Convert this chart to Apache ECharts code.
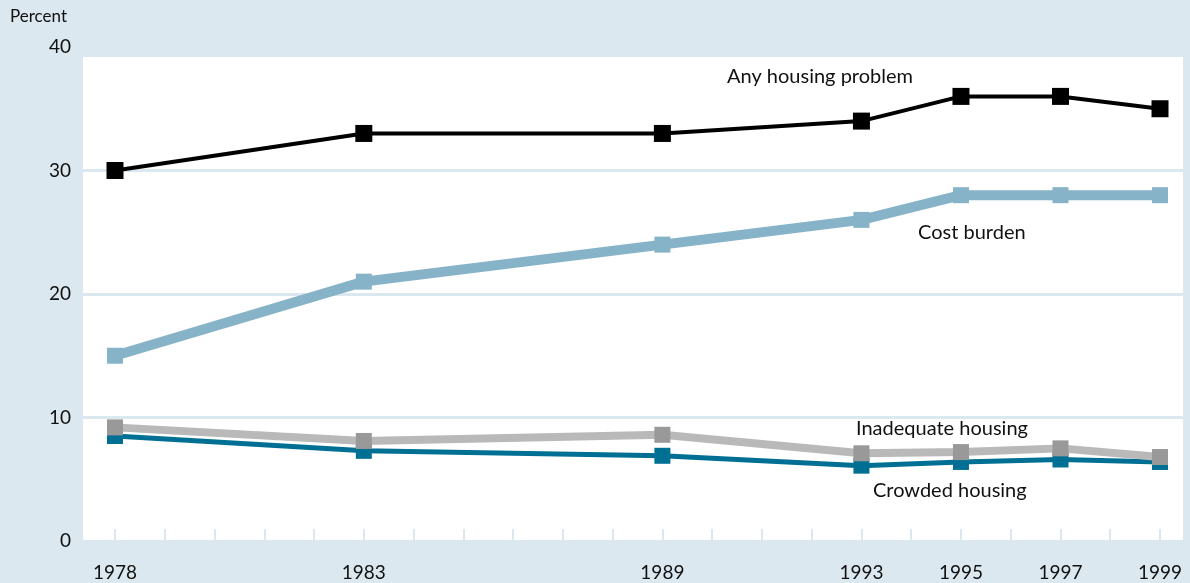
<!DOCTYPE html>
<html>
<head>
<meta charset="utf-8">
<script src="https://cdn.jsdelivr.net/npm/echarts@6/dist/echarts.min.js"></script>
<style>
  html, body { margin: 0; padding: 0; background: #dce8ef; }
  #chart { width: 1190px; height: 583px; }
</style>
</head>
<body>
<div id="chart"></div>
<script>
// 年份与各系列数据 (百分比)
var years = [1978, 1983, 1989, 1993, 1995, 1997, 1999];
var tickYears = [1978, 1979, 1980, 1981, 1982, 1983, 1984, 1985, 1986, 1987, 1988,
                 1989, 1990, 1991, 1992, 1993, 1994, 1995, 1996, 1997, 1998, 1999];
var anyProblem = [30, 33, 33, 34, 36, 36, 35];
var costBurden = [15, 21, 24, 26, 28, 28, 28];
var inadequate = [9.2, 8.1, 8.6, 7.1, 7.2, 7.5, 6.8];
var crowded = [8.5, 7.3, 6.9, 6.1, 6.4, 6.6, 6.4];
var yTicks = [0, 10, 20, 30, 40];

function pairs(vals) {
    return years.map(function (y, i) { return [y, vals[i]]; });
}

var font = 'Lato, "Noto Sans", sans-serif';
var chart = echarts.init(document.getElementById('chart'));

var option = {
    backgroundColor: '#dce8ef',
    animation: false,
    grid: { left: 83, right: 7, top: 47, bottom: 42 },
    xAxis: {
        type: 'value',
        min: 1977.357,
        max: 1999.462,
        axisLine: { show: false },
        splitLine: { show: false },
        axisTick: {
            show: true,
            inside: true,
            length: 12,
            customValues: tickYears,
            lineStyle: { color: '#dce8ef', width: 2 }
        },
        axisLabel: {
            customValues: years,
            color: '#111',
            fontSize: 19,
            fontFamily: font,
            margin: 22,
            formatter: function (v) { return String(v); }
        }
    },
    yAxis: {
        type: 'value',
        min: yTicks[0],
        max: yTicks[yTicks.length - 1],
        interval: 10,
        axisLine: { show: false },
        axisTick: { show: false },
        splitLine: { lineStyle: { color: '#dce8ef', width: 3 } },
        axisLabel: { color: '#111', fontSize: 19, fontFamily: font, margin: 12 }
    },
    graphic: [
        // 白色绘图区背景
        { type: 'rect', z: -100, silent: true,
          shape: { x: 83, y: 57, width: 1100, height: 486 },
          style: { fill: '#ffffff' } },
        { type: 'text', left: 10, top: 8,
          style: { text: 'Percent', fontSize: 17, fontFamily: font, fill: '#111' } },
        { type: 'text', left: 727, top: 67,
          style: { text: 'Any housing problem', fontSize: 20, fontFamily: font, fill: '#111' } },
        { type: 'text', left: 918, top: 223,
          style: { text: 'Cost burden', fontSize: 20, fontFamily: font, fill: '#111' } },
        { type: 'text', left: 856, top: 419,
          style: { text: 'Inadequate housing', fontSize: 20, fontFamily: font, fill: '#111' } },
        { type: 'text', left: 873, top: 481,
          style: { text: 'Crowded housing', fontSize: 20, fontFamily: font, fill: '#111' } }
    ],
    series: [
        {
            name: 'Crowded housing',
            type: 'line',
            data: pairs(crowded),
            symbol: 'rect',
            symbolSize: 16,
            z: 2,
            lineStyle: { color: '#006f94', width: 5 },
            itemStyle: { color: '#006f94' }
        },
        {
            name: 'Inadequate housing',
            type: 'line',
            data: pairs(inadequate),
            symbol: 'rect',
            symbolSize: 16,
            z: 3,
            lineStyle: { color: '#b9b9b9', width: 8 },
            itemStyle: { color: '#999999' }
        },
        {
            name: 'Cost burden',
            type: 'line',
            data: pairs(costBurden),
            symbol: 'rect',
            symbolSize: 16,
            z: 4,
            lineStyle: { color: '#86b3c7', width: 10 },
            itemStyle: { color: '#86b3c7' }
        },
        {
            name: 'Any housing problem',
            type: 'line',
            data: pairs(anyProblem),
            symbol: 'rect',
            symbolSize: 17,
            z: 5,
            lineStyle: { color: '#000000', width: 4 },
            itemStyle: { color: '#000000' }
        }
    ]
};

chart.setOption(option);
</script>
</body>
</html>
